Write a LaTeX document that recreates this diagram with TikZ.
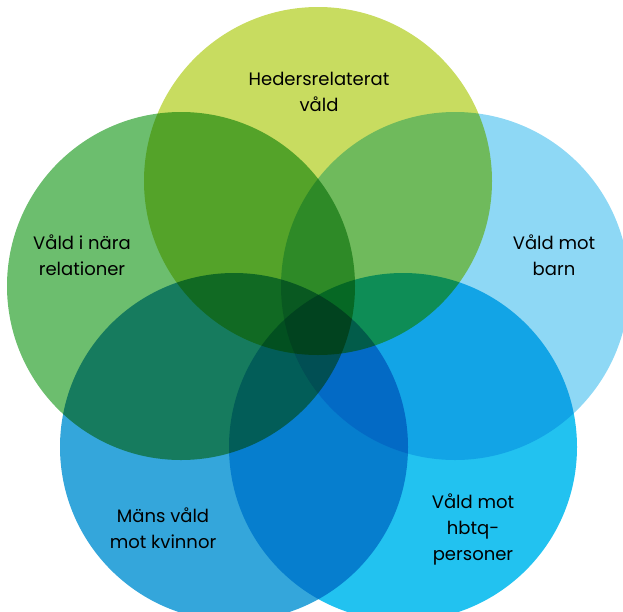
\documentclass[tikz,border=0pt]{standalone}
\usepackage{fontspec}
\setmainfont{Poppins}
\usepackage{tikz}
\definecolor{hedersc}{RGB}{200,220,96}
\definecolor{naerac}{RGB}{108,190,110}
\definecolor{barnc}{RGB}{142,216,245}
\definecolor{kvinnorc}{RGB}{52,166,219}
\definecolor{hbtqc}{RGB}{34,194,240}
\tikzstyle{vennlabel} = [
  align=center,
  font=\fontsize{18}{26}\selectfont,
  text=black,
]

\begin{document}
\begin{tikzpicture}[x=1pt, y=-1pt]
    \def\radius{174}

    \useasboundingbox (0,0) rectangle (623,611);

    \coordinate (H) at (318,181);
    \coordinate (N) at (181,286);
    \coordinate (B) at (455,286);
    \coordinate (K) at (234,447);
    \coordinate (Q) at (403,447);

    % Circles
    \begin{scope}[blend group=multiply]
        \fill[hedersc] (H) circle(\radius);
        \fill[naerac] (N) circle(\radius);
        \fill[barnc] (B) circle(\radius);
        \fill[kvinnorc] (K) circle(\radius);
        \fill[hbtqc] (Q) circle(\radius);
    \end{scope}

    % Labels
    \node[vennlabel] (hLabel) at (319,92) {Hedersrelaterat\\våld};
    \node[vennlabel] (nLabel) at (82,255) {Våld i nära\\relationer};
    \node[vennlabel] (bLabel) at (554,255) {Våld mot\\barn};
    \node[vennlabel] (kLabel) at (163,528) {Mäns våld\\mot kvinnor};
    \node[vennlabel] (qLabel) at (473,529) {Våld mot\\hbtq-\\personer};
\end{tikzpicture}
\end{document}
